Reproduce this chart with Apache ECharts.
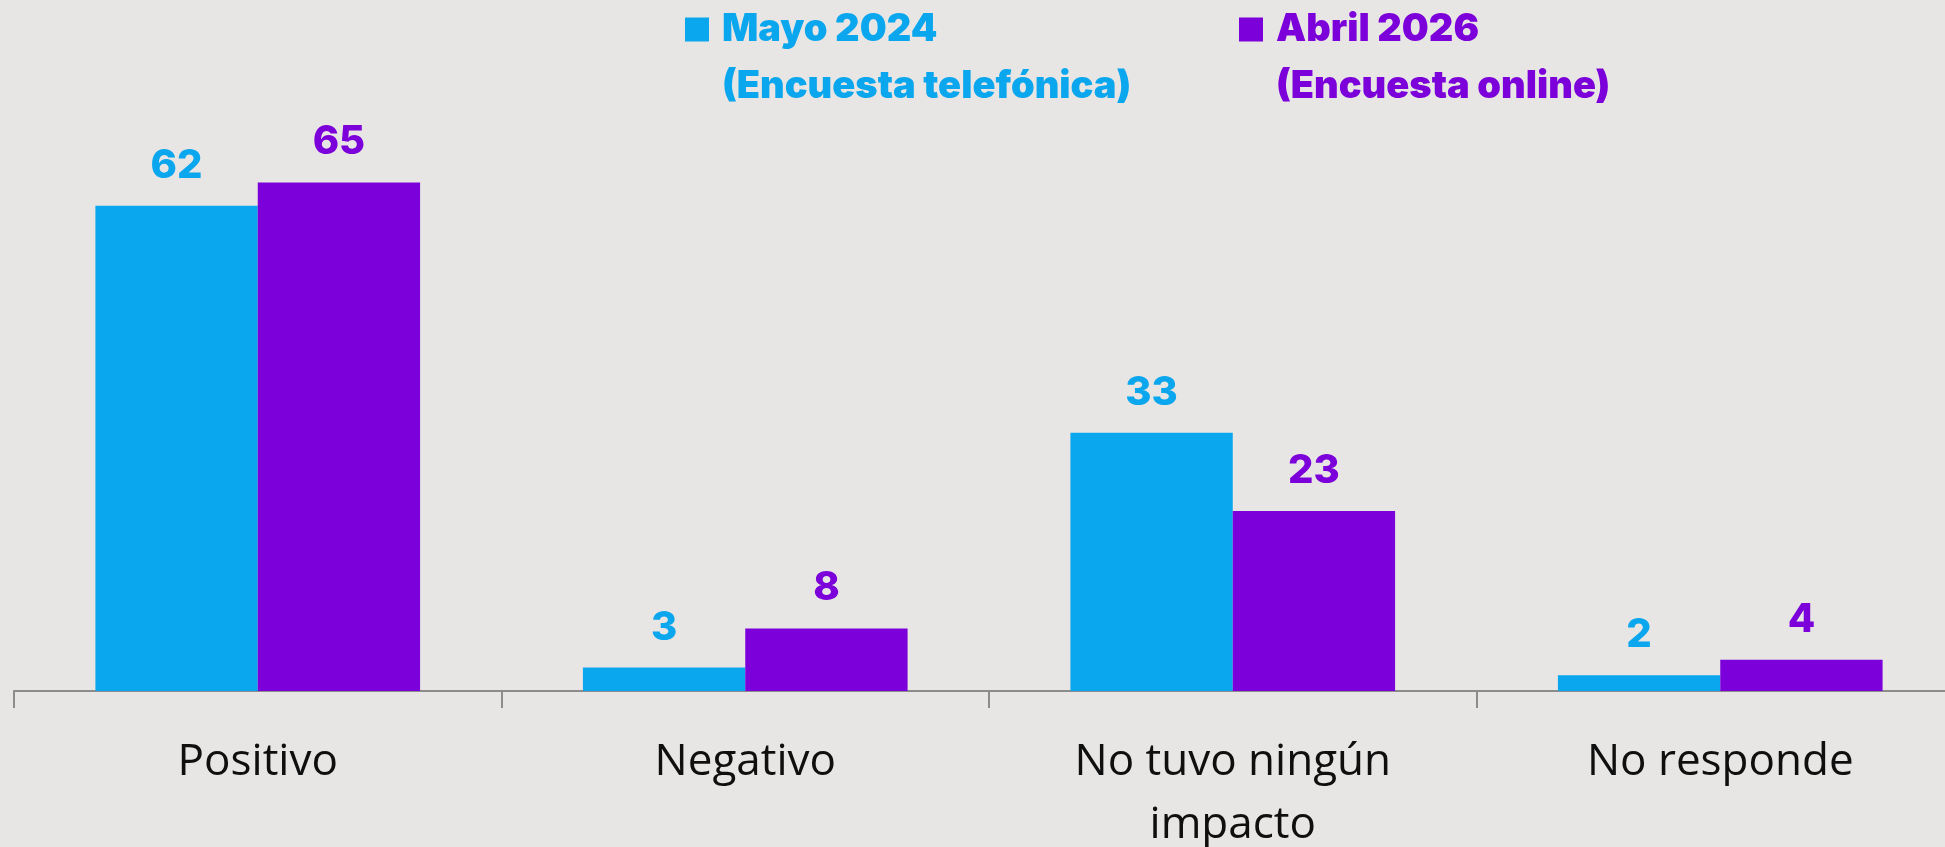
<!DOCTYPE html>
<html>
<head>
<meta charset="utf-8">
<script src="https://cdn.jsdelivr.net/npm/echarts@6/dist/echarts.min.js"></script>
<style>
    html, body { margin: 0; padding: 0; background: #E8E6E4; }
    #chart { width: 1945px; height: 847px; }
</style>
</head>
<body>
<div id="chart"></div>
<script>
//////////////////////////////////////////////////////////////////
// [ Data ]

var categories = ['Positivo', 'Negativo', 'No tuvo ningún\nimpacto', 'No responde'];
var mayo2024 = [62, 3, 33, 2];
var abril2026 = [65, 8, 23, 4];
var seriesNames = ['Mayo 2024', 'Abril 2026'];
var seriesNotes = ['(Encuesta telefónica)', '(Encuesta online)'];

var BLUE = '#0AA6EE';
var PURPLE = '#7B00D9';

//////////////////////////////////////////////////////////////////
// [ Chart ]

document.addEventListener('DOMContentLoaded', function () {
    var chart = echarts.init(document.getElementById('chart'));

    // leyenda: una línea vacía arriba para que el cuadrado quede a la altura del primer renglón
    function legendFor(i, left, color) {
        return {
            data: [seriesNames[i]],
            left: left,
            top: -56,
            padding: 0,
            itemWidth: 24,
            itemHeight: 24,
            icon: 'rect',
            selectedMode: false,
            formatter: function (name) {
                return '\n' + name + '\n' + seriesNotes[i];
            },
            textStyle: {
                color: color,
                fontFamily: 'Inter',
                fontWeight: 900,
                fontSize: 38,
                lineHeight: 57,
                padding: [0, 0, 0, 8]
            }
        };
    }

    var labelStyle = function (color) {
        return {
            show: true,
            position: 'top',
            distance: 20,
            color: color,
            fontFamily: 'Inter',
            fontWeight: 800,
            fontSize: 40
        };
    };

    var options = {
        backgroundColor: '#E8E6E4',
        animation: false,
        legend: [
            legendFor(0, 685, BLUE),
            legendFor(1, 1239, PURPLE)
        ],
        grid: {
            left: 14,
            width: 1950,
            top: 65,
            height: 626,
            outerBoundsMode: 'none',
            containLabel: false
        },
        xAxis: {
            type: 'category',
            data: categories,
            axisLine: { lineStyle: { color: '#8C8C8C', width: 2 } },
            axisTick: { show: true, length: 17, lineStyle: { color: '#8C8C8C', width: 2 } },
            axisLabel: {
                color: '#0F0F0F',
                fontFamily: 'Open Sans',
                fontSize: 44,
                lineHeight: 63,
                margin: 40
            }
        },
        yAxis: {
            type: 'value',
            min: 0,
            max: 80,
            show: false
        },
        series: [
            {
                name: seriesNames[0],
                type: 'bar',
                data: mayo2024,
                barWidth: '33.3%',
                barGap: 0,
                itemStyle: { color: BLUE },
                label: labelStyle(BLUE)
            },
            {
                name: seriesNames[1],
                type: 'bar',
                data: abril2026,
                barWidth: '33.3%',
                barGap: 0,
                itemStyle: { color: PURPLE },
                label: labelStyle(PURPLE)
            }
        ]
    };

    chart.setOption(options);
});
</script>
</body>
</html>
